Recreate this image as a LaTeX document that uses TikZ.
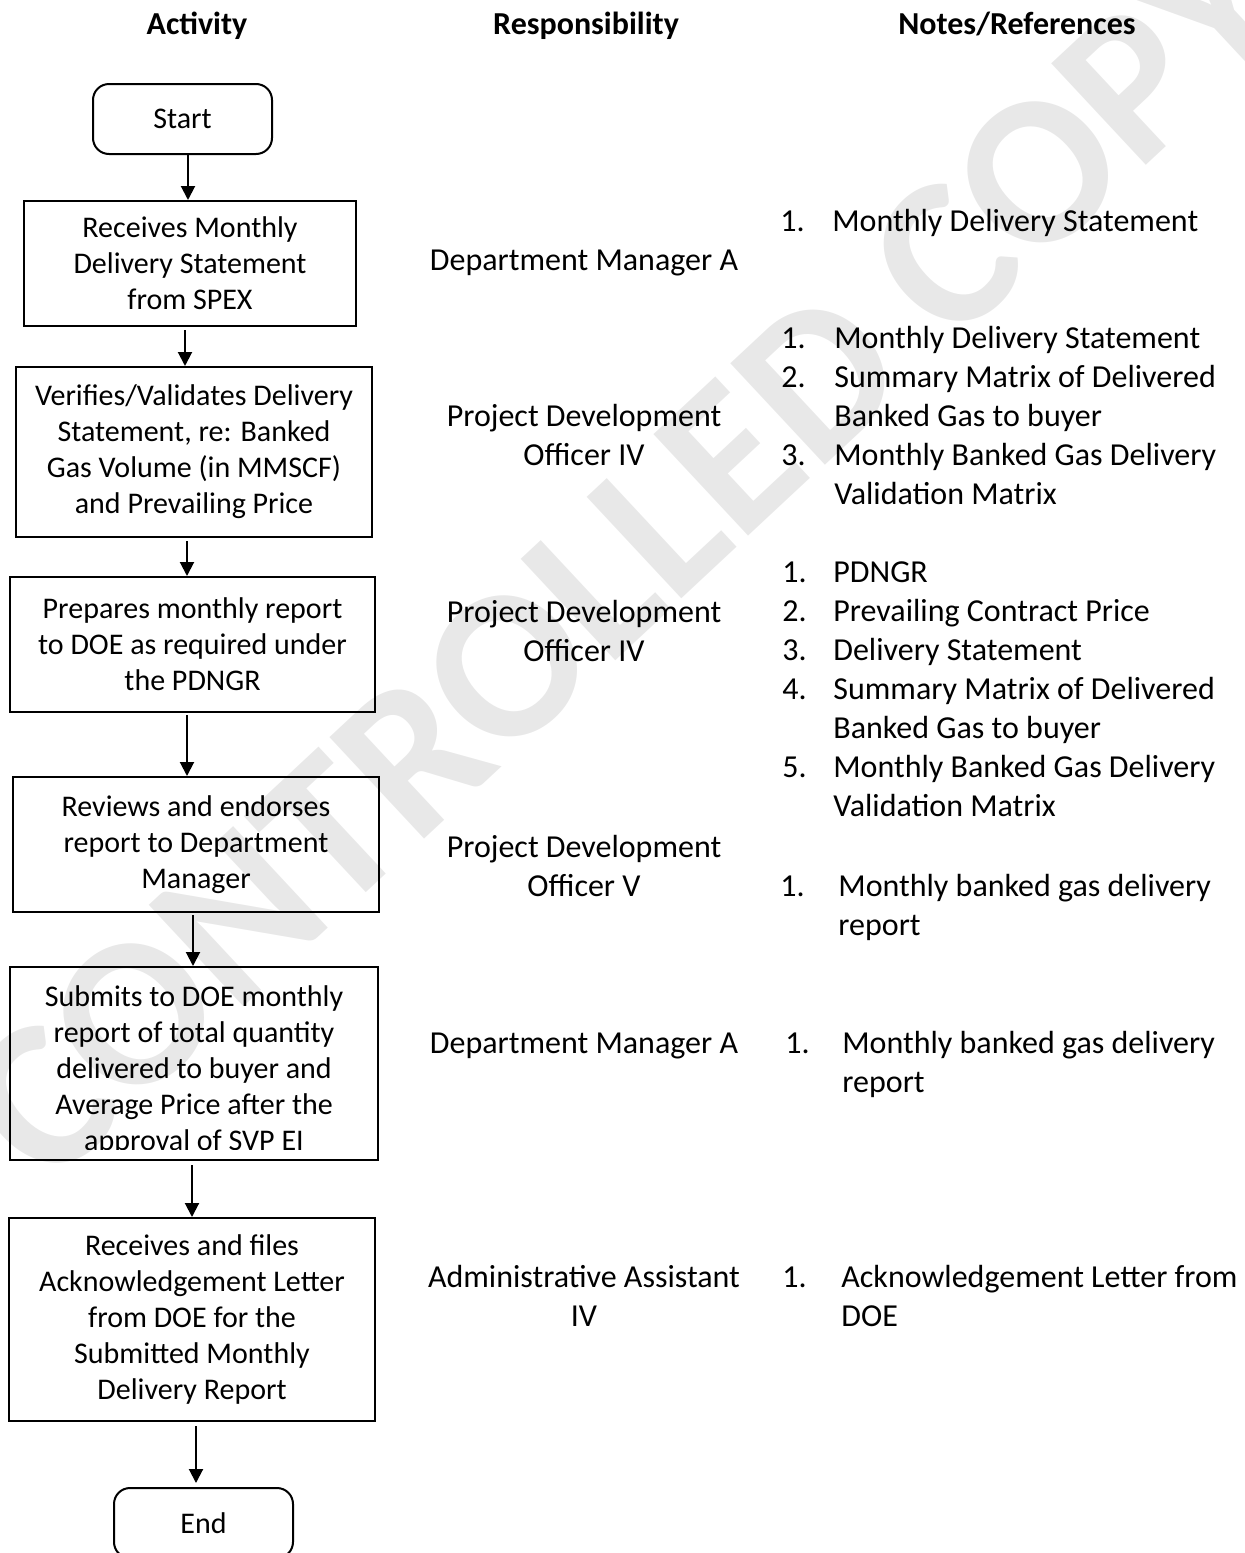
\documentclass[tikz,border=0pt]{standalone}
\usepackage{fontspec}
\setmainfont{Carlito}
\usetikzlibrary{arrows.meta,positioning}

\definecolor{stampgray}{RGB}{232,232,232}
\newcommand{\boxfont}{\fontsize{15}{18}\selectfont}
\newcommand{\listfont}{\fontsize{16}{19.5}\selectfont}

\begin{document}
\begin{tikzpicture}[
  x=0.5pt, y=-0.5pt,
  actbox/.style={rectangle, draw=black, line width=1pt, align=center, inner sep=0pt, font=\boxfont},
  terminal/.style={rectangle, rounded corners=8pt, draw=black, line width=1pt, inner sep=0pt,
    minimum width=89.5pt, minimum height=35pt, font=\boxfont},
  header/.style={anchor=base, inner sep=0pt, font=\listfont\bfseries},
  role/.style={anchor=base, inner sep=0pt, font=\listfont},
  notes/.style={anchor=base west, inner sep=0pt, font=\listfont},
  flow/.style={line width=1pt, -{Triangle[width=7pt,length=7pt]}},
  watermark/.style={inner sep=0pt, text=stampgray, rotate=43, font=\fontsize{107}{107}\selectfont\bfseries}
]
  \clip (0,0) rectangle (1245,1553);

  % watermark behind everything
  \node[watermark] (stamp) at (627,555) {CONTROLLED COPY};

  % column headers
  \node[header] (hactivity) at (197,34) {Activity};
  \node[header] (hresp) at (586,34) {Responsibility};
  \node[header] (hnotes) at (1017,34) {Notes/References};

  % activity column
  \node[terminal] (start) at (182.5,119) {Start};
  \node[actbox, minimum width=166pt, minimum height=62.5pt] (receive) at (190,263.5)
    {Receives Monthly\\Delivery Statement\\from SPEX};
  \node[actbox, minimum width=178pt, minimum height=85pt] (verify) at (194,452)
    {Verifies/Validates Delivery\\Statement, re: Banked\\Gas Volume (in MMSCF)\\and Prevailing Price};
  \node[actbox, minimum width=182.5pt, minimum height=67.5pt] (prepare) at (192.5,644.5)
    {Prepares monthly report\\to DOE as required under\\the PDNGR};
  \node[actbox, minimum width=183pt, minimum height=67.5pt] (review) at (196,844.5)
    {Reviews and endorses\\report to Department\\Manager};
  \node[actbox, minimum width=184pt, minimum height=96.5pt] (submit) at (194,1063.5) {};
  \begin{scope}
    \clip ([yshift=6pt]submit.south west) rectangle (submit.north east);
    \node[actbox, draw=none] (submittext) at (194,1070)
      {Submits to DOE monthly\\report of total quantity\\delivered to buyer and\\Average Price after the\\approval of SVP EI};
  \end{scope}
  \node[actbox, minimum width=183pt, minimum height=101.5pt] (acknowledge) at (192,1319.5)
    {Receives and files\\Acknowledgement Letter\\from DOE for the\\Submitted Monthly\\Delivery Report};
  \node[terminal] (finish) at (203.5,1523) {End};

  \draw[flow] ([xshift=2.75pt]start.south) -- ([xshift=2.75pt]start.south |- receive.north);
  \draw[flow, shorten <=1.5pt] ([xshift=-2.5pt]receive.south) -- ([xshift=-2.5pt]receive.south |- verify.north);
  \draw[flow, shorten <=1.5pt] ([xshift=-3.5pt]verify.south) -- ([xshift=-3.5pt]verify.south |- prepare.north);
  \draw[flow, shorten <=1pt] ([xshift=-2.75pt]prepare.south) -- ([xshift=-2.75pt]prepare.south |- review.north);
  \draw[flow, shorten <=1pt] ([xshift=-1.5pt]review.south) -- ([xshift=-1.5pt]review.south |- submit.north);
  \draw[flow, shorten <=2pt] ([xshift=-1pt]submit.south) -- ([xshift=-1pt]submit.south |- acknowledge.north);
  \draw[flow, shorten <=2pt, shorten >=2pt] ([xshift=2pt]acknowledge.south) -- ([xshift=2pt]acknowledge.south |- finish.north);

  % responsibility column
  \node[role] (role1) at (584,270) {Department Manager A};
  \node[role] (role2) at (584,426) {\begin{tabular}[t]{@{}c@{}}Project Development\\Officer IV\end{tabular}};
  \node[role] (role3) at (584,622) {\begin{tabular}[t]{@{}c@{}}Project Development\\Officer IV\end{tabular}};
  \node[role] (role4) at (584,857) {\begin{tabular}[t]{@{}c@{}}Project Development\\Officer V\end{tabular}};
  \node[role] (role5) at (584,1053) {Department Manager A};
  \node[role] (role6) at (584,1287) {\begin{tabular}[t]{@{}c@{}}Administrative Assistant\\IV\end{tabular}};

  % notes/references column
  \node[notes] (note1) at (780,231) {\begin{tabular}[t]{@{}p{26pt}@{}l@{}}
    1. & Monthly Delivery Statement\end{tabular}};
  \node[notes] (note2) at (781,348) {\begin{tabular}[t]{@{}p{26.5pt}@{}l@{}}
    1. & Monthly Delivery Statement\\
    2. & Summary Matrix of Delivered\\
       & Banked Gas to buyer\\
    3. & Monthly Banked Gas Delivery\\
       & Validation Matrix\end{tabular}};
  \node[notes] (note3) at (782,582) {\begin{tabular}[t]{@{}p{25.5pt}@{}l@{}}
    1. & PDNGR\\
    2. & Prevailing Contract Price\\
    3. & Delivery Statement\\
    4. & Summary Matrix of Delivered\\
       & Banked Gas to buyer\\
    5. & Monthly Banked Gas Delivery\\
       & Validation Matrix\end{tabular}};
  \node[notes] (note4) at (780,896) {\begin{tabular}[t]{@{}p{29pt}@{}l@{}}
    1. & Monthly banked gas delivery\\
       & report\end{tabular}};
  \node[notes] (note5) at (785,1053) {\begin{tabular}[t]{@{}p{28.5pt}@{}l@{}}
    1. & Monthly banked gas delivery\\
       & report\end{tabular}};
  \node[notes] (note6) at (782,1287) {\begin{tabular}[t]{@{}p{29.5pt}@{}l@{}}
    1. & Acknowledgement Letter from\\
       & DOE\end{tabular}};
\end{tikzpicture}
\end{document}
